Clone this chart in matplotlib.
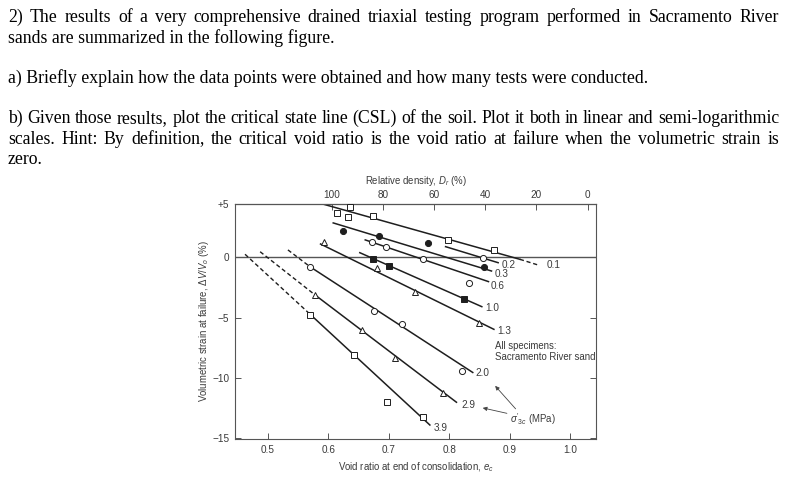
import matplotlib
matplotlib.use("Agg")
import matplotlib.pyplot as plt
import numpy as np

plt.rcParams['font.family'] = 'Liberation Sans'
plt.rcParams['mathtext.fontset'] = 'custom'
plt.rcParams['mathtext.rm'] = 'Liberation Sans'
plt.rcParams['mathtext.it'] = 'Liberation Sans:italic'

# ---- question text ----
para_lines = [
    "2) The results of a very comprehensive drained triaxial testing program performed in Sacramento River",
    "sands are summarized in the following figure.",
    "a) Briefly explain how the data points were obtained and how many tests were conducted.",
    "b) Given those results, plot the critical state line (CSL) of the soil. Plot it both in linear and semi-logarithmic",
    "scales. Hint: By definition, the critical void ratio is the void ratio at failure when the volumetric strain is",
    "zero.",
]
para_base = [22, 43, 83, 123, 144, 164]          # baseline, px from top
para_just = [True, False, False, True, True, False]

# ---- chart data: sigma'3c series ----
labels = ["0.1", "0.2", "0.3", "0.6", "1.0", "1.3", "2.0", "2.9", "3.9"]

e_pts = [
    [0.614, 0.633, 0.635, 0.674, 0.798, 0.874],
    [0.856],
    [0.625, 0.684, 0.765, 0.858],
    [0.672, 0.695, 0.757, 0.833],
    [0.674, 0.701, 0.824],
    [0.593, 0.680, 0.743, 0.850],
    [0.570, 0.675, 0.722, 0.822],
    [0.578, 0.655, 0.711, 0.790],
    [0.570, 0.642, 0.697, 0.757],
]
ev_pts = [
    [3.65, 3.32, 4.20, 3.45, 1.44, 0.61],
    [-0.08],
    [2.18, 1.77, 1.19, -0.83],
    [1.29, 0.83, -0.18, -2.11],
    [-0.14, -0.70, -3.50],
    [1.29, -0.91, -2.90, -5.48],
    [-0.83, -4.46, -5.54, -9.44],
    [-3.13, -6.03, -8.32, -11.29],
    [-4.79, -8.07, -12.03, -13.29],
]
markers = ['s', 'o', 'o', 'o', 's', '^', 'o', '^', 's']
filled = [False, False, True, False, True, False, False, False, False]

# fitted lines (solid part)
fit_e = [[0.592, 0.917], [0.794, 0.881], [0.608, 0.870], [0.661, 0.865],
         [0.652, 0.854], [0.587, 0.874], [0.570, 0.839], [0.578, 0.812], [0.571, 0.768]]
fit_ev = [[4.40, -0.17], [0.88, -0.45], [2.85, -1.14], [1.44, -2.02],
          [0.38, -4.10], [1.10, -5.98], [-0.80, -9.56], [-3.13, -12.03], [-4.79, -13.92]]
# dashed extensions
dash_e = {"0.1": [0.917, 0.947], "2.0": [0.533, 0.570], "2.9": [0.487, 0.578], "3.9": [0.462, 0.571]}
dash_ev = {"0.1": [-0.17, -0.64], "2.0": [0.61, -0.80], "2.9": [0.46, -3.13], "3.9": [0.25, -4.79]}

lab_e = [0.962, 0.886, 0.876, 0.869, 0.859, 0.879, 0.844, 0.821, 0.774]
lab_ev = [-0.68, -0.64, -1.39, -2.36, -4.23, -6.09, -9.63, -12.26, -14.14]

emin, emax = 0.606, 1.029
dr_ticks = [100, 80, 60, 40, 20, 0]

fig = plt.figure(figsize=(8.08, 4.87), dpi=100)
fig.patch.set_facecolor('white')

# paragraph
r = fig.canvas.get_renderer()
W = fig.bbox.width
x0, x1 = 8, 779
base_fs = 12.8
for s, b, j in zip(para_lines, para_base, para_just):
    y = 1 - b / 487
    kw = dict(family='Liberation Serif', color='black', va='baseline', ha='left')
    if not j:
        fig.text(x0 / W, y, s, fontsize=base_fs, **kw)
        continue
    words = s.split()
    fs = base_fs
    while True:
        ts = [fig.text(0, y, w, fontsize=fs, **kw) for w in words]
        widths = [t.get_window_extent(r).width for t in ts]
        gap = ((x1 - x0) - sum(widths)) / (len(words) - 1)
        if gap >= 0.14 * fs * 100 / 72 or fs < 9:
            break
        for t in ts:
            t.remove()
        fs -= 0.2
    x = x0
    for t, w in zip(ts, widths):
        t.set_x(x / W)
        x += w + gap

# chart
ax = fig.add_axes([235 / 808, 48 / 487, 361 / 808, 235 / 487])
ink = '#1e1e1e'
txt = '#3a3a3a'

ax.axhline(0, color='#555555', lw=1.0, zorder=1)

for i, lab in enumerate(labels):
    ax.plot(fit_e[i], fit_ev[i], color=ink, lw=1.1, zorder=2)
    if lab in dash_e:
        ax.plot(dash_e[lab], dash_ev[lab], color=ink, lw=1.0, ls=(0, (3, 2)), zorder=2)
    ax.plot(e_pts[i], ev_pts[i], ls='none', marker=markers[i], ms=4.4,
            mfc=ink if filled[i] else 'white', mec=ink, mew=0.7, zorder=3)
    ax.text(lab_e[i], lab_ev[i], lab, fontsize=7.2, color=txt, ha='left', va='center')

ax.text(0.876, -7.35, "All specimens:", fontsize=6.9, color=txt, ha='left', va='center')
ax.text(0.876, -8.25, "Sacramento River sand", fontsize=6.9, color=txt, ha='left', va='center')
ax.text(0.901, -13.42, r"$\sigma'_{3c}$ (MPa)", fontsize=6.9, color=txt, ha='left', va='center')
arw = dict(arrowstyle='-|>', color='#444444', lw=0.6, mutation_scale=6)
ax.annotate("", xy=(0.873, -10.5), xytext=(0.913, -12.75), arrowprops=arw)
ax.annotate("", xy=(0.851, -12.45), xytext=(0.900, -13.0), arrowprops=arw)

ax.set_xlim(0.4454, 1.043)
ax.set_ylim(-15.08, 4.42)
ax.set_xticks([0.5, 0.6, 0.7, 0.8, 0.9, 1.0])
ax.set_xticklabels(["0.5", "0.6", "0.7", "0.8", "0.9", "1.0"])
ax.set_yticks([-15, -10, -5, 0, 4.42])
ax.set_yticklabels(["\u221215", "\u221210", "\u22125", "0", "+5"])
ax.tick_params(direction='in', length=4, width=0.7, color='#555555',
               labelsize=7.2, labelcolor=txt, pad=4, right=True)
for sp in ax.spines.values():
    sp.set_color('#555555')
    sp.set_linewidth(0.8)

ax.set_xlabel("Void ratio at end of consolidation, $e_c$", fontsize=6.9, color=txt, labelpad=4)
ax.set_ylabel("Volumetric strain at failure, $\\Delta V/V_o$ (%)", fontsize=6.9, color=txt, labelpad=1)

def e2dr(e):
    return (emax - np.asarray(e)) / (emax - emin) * 100

def dr2e(d):
    return emax - np.asarray(d) / 100 * (emax - emin)

top = ax.secondary_xaxis('top', functions=(e2dr, dr2e))
top.set_xticks(dr_ticks)
top.tick_params(direction='in', length=4, width=0.7, color='#555555',
                labelsize=7.2, labelcolor=txt, pad=3)
top.set_xlabel("Relative density, $D_r$ (%)", fontsize=6.9, color=txt, labelpad=4)

fig.savefig("out.png", dpi=100, facecolor='white')
